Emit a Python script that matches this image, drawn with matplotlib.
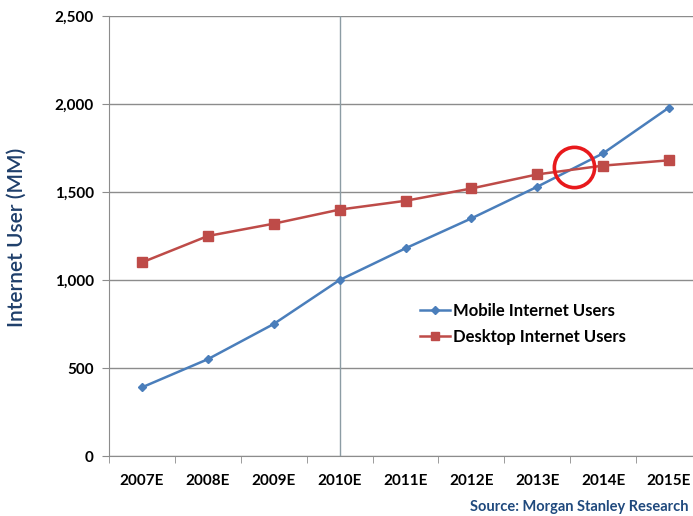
import numpy as np
import matplotlib
matplotlib.use("Agg")
import matplotlib.pyplot as plt

years = ["2007E", "2008E", "2009E", "2010E", "2011E", "2012E", "2013E", "2014E", "2015E"]
mobile_users = [390, 550, 750, 1000, 1180, 1350, 1530, 1720, 1980]
desktop_users = [1100, 1250, 1320, 1400, 1450, 1520, 1600, 1650, 1680]
y_ticks = [0, 500, 1000, 1500, 2000, 2500]

plt.rcParams['font.family'] = ['Lato', 'DejaVu Sans']

fig = plt.figure(figsize=(6.93, 5.16), dpi=100)
ax = fig.add_axes([109 / 693, 1 - 456 / 516, 593 / 693, 440 / 516])

x = np.arange(len(years))
ax.plot(x, mobile_users, color="#4A7EBB", lw=1.8, marker="D", ms=4.5,
        label="Mobile Internet Users", zorder=3)
ax.plot(x, desktop_users, color="#BE4B48", lw=1.8, marker="s", ms=6.5,
        label="Desktop Internet Users", zorder=3)

# crossover point, circled in red
m = np.array(mobile_users, float)
d = np.array(desktop_users, float)
diff = m - d
i = np.where(np.sign(diff[:-1]) != np.sign(diff[1:]))[0][0]
t = -diff[i] / (diff[i + 1] - diff[i])
cx = i + t
cy = m[i] + t * (m[i + 1] - m[i])
ax.plot([cx + 0.05], [cy + 15], marker="o", ms=29, mfc="none", mec="#E8191C", mew=2.6, zorder=4)

ax.set_xlim(-0.5, len(years) - 0.5)
ax.set_ylim(0, 2500)
ax.set_yticks(y_ticks)
ax.set_yticklabels([f"{v:,}" for v in y_ticks], fontweight="bold", fontsize=11)
ax.set_xticks(x)
ax.set_xticklabels(years, fontweight="bold", fontsize=11)
ax.set_xticks(np.arange(len(years) + 1) - 0.5, minor=True)
ax.tick_params(axis="x", which="major", length=0, pad=13)
ax.tick_params(axis="x", which="minor", length=5, color="#8C8C8C", direction="out")
ax.tick_params(axis="y", length=5, color="#8C8C8C", pad=6)

ax.grid(axis="y", color="#8C8C8C", lw=1)
ax.set_axisbelow(True)
ax.axvline(3, color="#8C9CA4", lw=1, zorder=1)
for s in ["top", "right"]:
    ax.spines[s].set_visible(False)
for s in ["left", "bottom"]:
    ax.spines[s].set_color("#8C8C8C")

leg = ax.legend(loc="center left", bbox_to_anchor=((420 - 109) / 593, (456 - 324) / 440),
                frameon=False, borderpad=0, borderaxespad=0,
                prop={"weight": "bold", "size": 12}, handlelength=1.8,
                handletextpad=0.2, labelspacing=0.6, markerscale=0.8)

fig.text(17 / 693, 1 - 237 / 516, "Internet User (MM)", rotation=90, ha="center",
         va="center", fontsize=15, color="#1F3F6B", fontweight="semibold")
fig.text(689 / 693, 1 - 507 / 516, "Source: Morgan Stanley Research", ha="right",
         va="center", fontsize=10.5, color="#1F497D", fontweight="bold")

fig.savefig("out.png", dpi=100)
